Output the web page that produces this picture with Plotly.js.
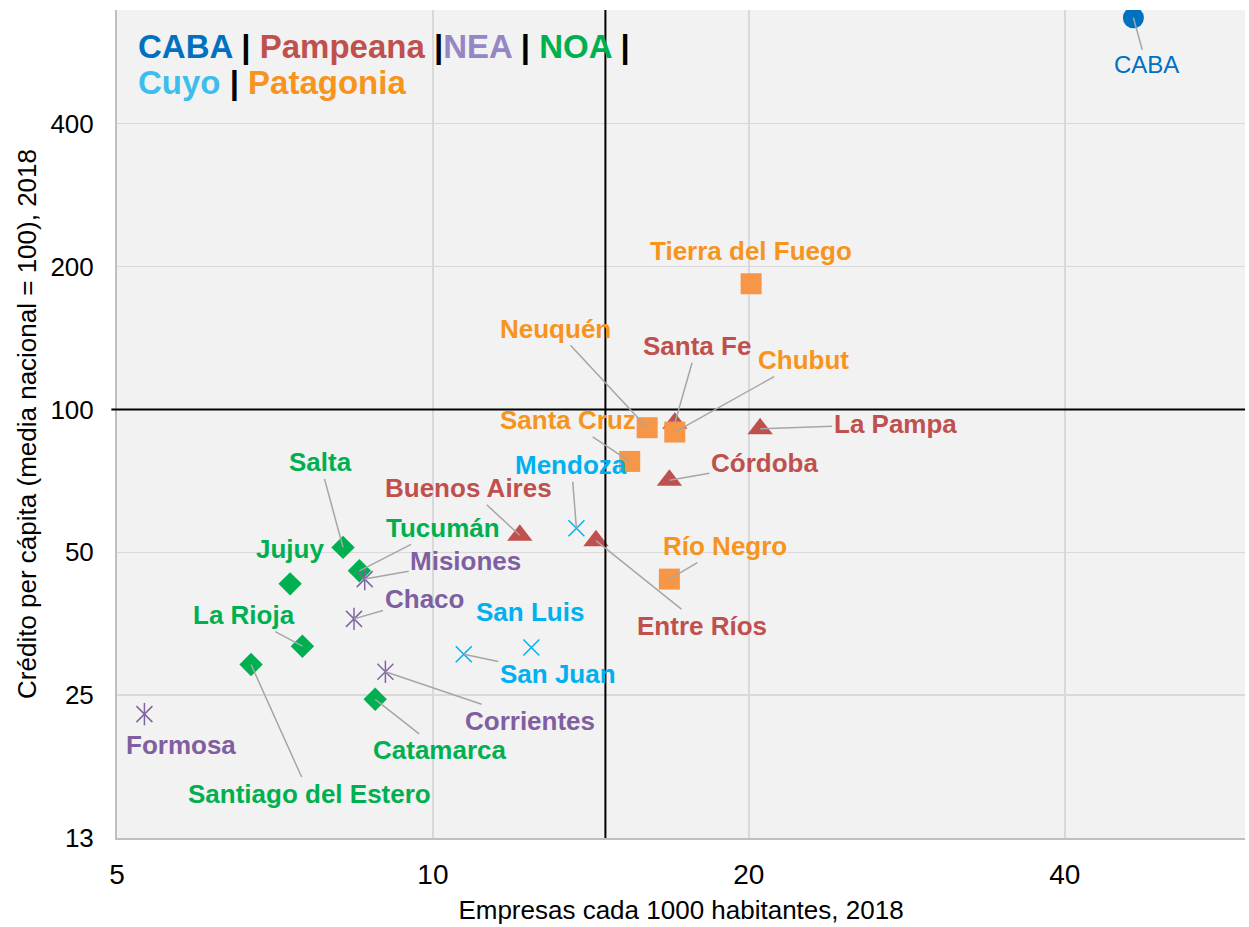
<!DOCTYPE html>
<html>
<head>
<meta charset="utf-8">
<script src="https://cdn.plot.ly/plotly-3.0.1.min.js"></script>
<style>html,body{margin:0;padding:0;background:#fff;}#chart{width:1249px;height:927px;}</style>
</head>
<body>
<div id="chart"></div>
<script>
// ---- data ----
const cabaNames = ["CABA"];
const cabaX = [46.5];
const cabaY = [669];

const pampeanaNames = ["Santa Fe", "La Pampa", "Córdoba", "Buenos Aires", "Entre Ríos"];
const pampeanaX = [17.0, 20.5, 16.8, 12.1, 14.3];
const pampeanaY = [93.5, 91.0, 70.9, 54.3, 52.9];

const patagoniaNames = ["Tierra del Fuego", "Neuquén", "Chubut", "Santa Cruz", "Río Negro"];
const patagoniaX = [20.1, 16.0, 17.0, 15.4, 16.8];
const patagoniaY = [184, 91.5, 89.6, 77.7, 43.9];

const noaNames = ["Salta", "Tucumán", "Jujuy", "La Rioja", "Santiago del Estero", "Catamarca"];
const noaX = [8.21, 8.51, 7.31, 7.51, 6.71, 8.81];
const noaY = [51.2, 45.7, 42.9, 31.7, 29.0, 24.5];

const neaNames = ["Misiones", "Chaco", "Corrientes", "Formosa"];
const neaX = [8.61, 8.41, 9.01, 5.31];
const neaY = [43.9, 36.2, 28.0, 22.8];

const cuyoNames = ["Mendoza", "San Luis", "San Juan"];
const cuyoX = [13.7, 12.41, 10.7];
const cuyoY = [56.2, 31.5, 30.5];

const nationalX = 14.6;   // media nacional, empresas
const nationalY = 100;    // media nacional, crédito

const xTickVals = [5, 10, 20, 40];
const xTickText = ["5", "10", "20", "40"];
const yTickVals = [12.5, 25, 50, 100, 200, 400];
const yTickText = ["13", "25", "50", "100", "200", "400"];

const xTitle = "Empresas cada 1000 habitantes, 2018";
const yTitle = "Crédito per cápita (media nacional = 100), 2018";

// ---- styles / label placement (pixel offsets from point) ----
const FONT = "Liberation Sans, Arial, Helvetica, sans-serif";
const C = {
  caba: "#0070C0", pampeana: "#C0504D", patagonia: "#F79646", noa: "#00B050",
  nea: "#8064A2", cuyo: "#00B0F0"
};
const labelColor = {
  caba: "#0070C0", pampeana: "#C0504D", patagonia: "#F7941D", noa: "#00B050",
  nea: "#7F5FA0", cuyo: "#00B0F0"
};
const labelPos = {
  "CABA": [13, 47, true],
  "Tierra del Fuego": [0, -33, false],
  "Neuquén": [-92, -99, true],
  "Santa Fe": [22, -77, true],
  "Chubut": [129, -72, true],
  "La Pampa": [135, -5, true],
  "Santa Cruz": [-62, -41, true],
  "Córdoba": [95, -17, true],
  "Mendoza": [-5, -63, true],
  "Buenos Aires": [-51, -47, true],
  "Entre Ríos": [106, 85, true],
  "Río Negro": [56, -33, true],
  "San Luis": [-1, -36, false],
  "San Juan": [94, 20, true],
  "Salta": [-23, -85, true],
  "Tucumán": [84, -43, true],
  "Misiones": [101, -18, true],
  "Jujuy": [0, -35, false],
  "Chaco": [70, -20, true],
  "La Rioja": [-58, -31, true],
  "Santiago del Estero": [58, 129, true],
  "Corrientes": [145, 49, true],
  "Catamarca": [65, 51, true],
  "Formosa": [37, 31, false]
};

const traces = [
  {x: pampeanaX, y: pampeanaY, text: pampeanaNames, type: "scatter", mode: "markers",
   marker: {symbol: "triangle-up", size: 22, color: C.pampeana}},
  {x: patagoniaX, y: patagoniaY, text: patagoniaNames, type: "scatter", mode: "markers",
   marker: {symbol: "square", size: 21, color: C.patagonia}},
  {x: noaX, y: noaY, text: noaNames, type: "scatter", mode: "markers",
   marker: {symbol: "diamond", size: 18, color: C.noa}},
  {x: neaX, y: neaY, text: neaNames, type: "scatter", mode: "markers",
   marker: {symbol: "x-thin-open", size: 16, color: C.nea, line: {width: 1.5, color: C.nea}}},
  {x: neaX, y: neaY, text: neaNames, type: "scatter", mode: "markers",
   marker: {symbol: "line-ns-open", size: 16, color: C.nea, line: {width: 1.5, color: C.nea}}},
  {x: cuyoX, y: cuyoY, text: cuyoNames, type: "scatter", mode: "markers",
   marker: {symbol: "x-thin-open", size: 16, color: C.cuyo, line: {width: 1.5, color: C.cuyo}}},
  {x: cabaX, y: cabaY, text: cabaNames, type: "scatter", mode: "markers",
   marker: {symbol: "circle", size: 21, color: C.caba}}
];

const annotations = [];
function addLabels(names, xs, ys, region) {
  names.forEach((n, i) => {
    const p = labelPos[n];
    annotations.push({
      x: Math.log10(xs[i]), y: Math.log10(ys[i]), xref: "x", yref: "y",
      text: region === "caba" ? n : "<b>" + n + "</b>",
      showarrow: true, arrowhead: 0, arrowwidth: 1.5,
      arrowcolor: p[2] ? "#A6A6A6" : "rgba(0,0,0,0)",
      ax: p[0], ay: p[1], standoff: 0,
      font: {family: FONT, size: region === "caba" ? 24 : 26, color: labelColor[region]}
    });
  });
}
addLabels(cabaNames, cabaX, cabaY, "caba");
addLabels(pampeanaNames, pampeanaX, pampeanaY, "pampeana");
addLabels(patagoniaNames, patagoniaX, patagoniaY, "patagonia");
addLabels(noaNames, noaX, noaY, "noa");
addLabels(neaNames, neaX, neaY, "nea");
addLabels(cuyoNames, cuyoX, cuyoY, "cuyo");

const span = (c, t) => '<span style="color:' + c + '">' + t + '</span>';
annotations.push({
  xref: "paper", yref: "paper", x: 0.017, y: 0.9565, xanchor: "left", yanchor: "middle",
  showarrow: false, font: {family: FONT, size: 33, color: "#000"},
  text: "<b>" + span("#0070C0", "CABA") + " | " + span("#C0504D", "Pampeana") + " |" +
        span("#9686C4", "NEA") + " | " + span("#00B050", "NOA") + " |</b>"
});
annotations.push({
  xref: "paper", yref: "paper", x: 0.017, y: 0.912, xanchor: "left", yanchor: "middle",
  showarrow: false, font: {family: FONT, size: 33, color: "#000"},
  text: "<b>" + span("#3DBDED", "Cuyo") + " | " + span("#F7941D", "Patagonia") + "</b>"
});

const layout = {
  width: 1249, height: 927,
  margin: {l: 117, r: 4, t: 10, b: 89},
  paper_bgcolor: "#FFFFFF", plot_bgcolor: "#F2F2F2",
  showlegend: false,
  font: {family: FONT, color: "#000"},
  xaxis: {
    type: "log", range: [Math.log10(5), Math.log10(59.4)],
    tickvals: xTickVals, ticktext: xTickText,
    tickfont: {family: FONT, size: 28, color: "#000"},
    ticks: "outside", ticklen: 10, tickcolor: "rgba(0,0,0,0)",
    showgrid: true, gridcolor: "#D9D9D9", gridwidth: 1.5,
    showline: true, linecolor: "#BFBFBF", linewidth: 2, zeroline: false,
    title: {text: xTitle, font: {family: FONT, size: 26, color: "#000"}, standoff: 12}
  },
  yaxis: {
    type: "log", range: [Math.log10(12.5), Math.log10(694.5)],
    tickvals: yTickVals, ticktext: yTickText,
    tickfont: {family: FONT, size: 26, color: "#000"},
    ticks: "outside", ticklen: 16, tickcolor: "rgba(0,0,0,0)",
    showgrid: true, gridcolor: "#D9D9D9", gridwidth: 1.5,
    showline: true, linecolor: "#BFBFBF", linewidth: 2, zeroline: false,
    title: {text: yTitle, font: {family: FONT, size: 26, color: "#000"}, standoff: 6}
  },
  shapes: [
    {type: "line", xref: "x", yref: "paper", x0: nationalX, x1: nationalX, y0: 0, y1: 1,
     line: {color: "#000", width: 2}, layer: "above"},
    {type: "line", xref: "paper", yref: "y", x0: -0.005, x1: 1, y0: nationalY, y1: nationalY,
     line: {color: "#000", width: 2}, layer: "above"}
  ],
  annotations: annotations
};

Plotly.newPlot("chart", traces, layout, {staticPlot: true, displayModeBar: false});
</script>
</body>
</html>
